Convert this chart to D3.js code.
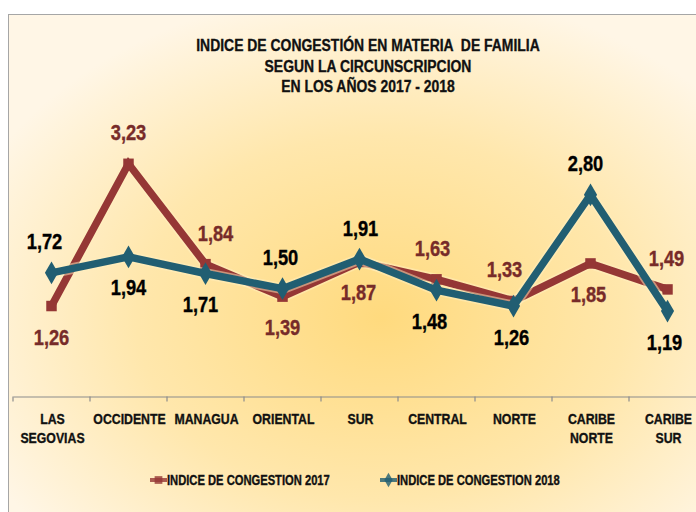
<!DOCTYPE html>
<html>
<head>
<meta charset="utf-8">
<script src="https://cdn.jsdelivr.net/npm/d3@7"></script>
<style>
  html, body { margin: 0; padding: 0; background: #fff; }
  svg { display: block; }
  text { font-family: "Liberation Sans", Arial, sans-serif; font-weight: bold; }
</style>
</head>
<body>
<script>
// ---- data ----
const categories = ["LAS SEGOVIAS", "OCCIDENTE", "MANAGUA", "ORIENTAL", "SUR", "CENTRAL", "NORTE", "CARIBE NORTE", "CARIBE SUR"];
const values2017 = [1.26, 3.23, 1.84, 1.39, 1.87, 1.63, 1.33, 1.85, 1.49];
const values2018 = [1.72, 1.94, 1.71, 1.50, 1.91, 1.48, 1.26, 2.80, 1.19];
const seriesNames = ["INDICE DE CONGESTION 2017", "INDICE DE CONGESTION 2018"];
const titleLines = ["INDICE DE CONGESTIÓN EN MATERIA  DE FAMILIA", "SEGUN LA CIRCUNSCRIPCION", "EN LOS AÑOS 2017 - 2018"];

// label placement (above / below point) and horizontal nudges
const place2017 = [1, -1, -1, 1, 1, -1, -1, 1, -1];
const nudge2017 = [0, 0, 10, 0, -1, -4, -9, -2, -1];
const place2018 = [-1, 1, 1, -1, -1, 1, 1, -1, 1];
const nudge2018 = [-7, 0, -5, -2, 1, -7, -2, -5, -3];

const W = 696, H = 512;
const svg = d3.select("body").append("svg").attr("width", W).attr("height", H);

// condensed text helper (Arial Narrow look)
function ntext(parent, px, py, str, size, color, sx = 0.82, anchor = "middle") {
  const g = parent.append("g").attr("transform", `translate(${px},${py}) scale(${sx},1)`);
  return g.append("text").attr("x", 0).attr("y", 0).attr("text-anchor", anchor)
    .attr("font-size", size).attr("fill", color)
    .attr("stroke", color).attr("stroke-width", 0.35)
    .attr("xml:space", "preserve").text(str);
}

// background gradient
const defs = svg.append("defs");
const grad = defs.append("radialGradient").attr("id", "bg")
  .attr("cx", "52%").attr("cy", "57%").attr("r", "62%");
grad.append("stop").attr("offset", "0%").attr("stop-color", "#FFDA7E");
grad.append("stop").attr("offset", "55%").attr("stop-color", "#FFE7AC");
grad.append("stop").attr("offset", "100%").attr("stop-color", "#FFF6E6");

svg.append("rect").attr("x", 8.5).attr("y", 14.5).attr("width", W + 20).attr("height", H + 20)
  .attr("fill", "url(#bg)").attr("stroke", "#A6A6A6").attr("stroke-width", 1);

// title
const titleG = svg.append("g");
titleLines.forEach((t, i) => ntext(titleG, 368, 51 + i * 20.5, t, 17, "#111"));

// scales
const x = d3.scaleBand().domain(categories).range([13, 13 + 77 * 9]);
const y = d3.scaleLinear().domain([0, 3.5]).range([397, 397 - 72.2 * 3.5]);
const cx = d => x(d) + x.bandwidth() / 2;

// axis
const axisY = 396.5;
const axis = svg.append("g").attr("transform", `translate(0,${axisY})`)
  .call(d3.axisBottom(x).tickSize(0).tickFormat(""));
axis.select(".domain").attr("stroke", "#8C8C8C").attr("stroke-width", 1.2);
svg.append("g").selectAll("line").data(categories).join("line")
  .attr("x1", d => x(d)).attr("x2", d => x(d))
  .attr("y1", axisY).attr("y2", axisY + 5)
  .attr("stroke", "#8C8C8C").attr("stroke-width", 1.2);

// category labels
const catG = svg.append("g");
categories.forEach(c => {
  c.split(" ").forEach((w, i) => ntext(catG, cx(c) + 1, 424 + i * 19, w, 15, "#111"));
});

// lines
const col2017 = "#953735", col2018 = "#215E72";
const lbl2017 = "#772B29", lbl2018 = "#000";
const line = d3.line().x((d, i) => cx(categories[i])).y(d => y(d));

function drawSeries(vals, color, marker) {
  const g = svg.append("g");
  g.append("path").datum(vals).attr("d", line).attr("fill", "none")
    .attr("stroke", "#FFF0C0").attr("stroke-opacity", 0.5).attr("stroke-width", 11).attr("stroke-linejoin", "round");
  g.append("path").datum(vals).attr("d", line).attr("fill", "none")
    .attr("stroke", color).attr("stroke-width", 7.5).attr("stroke-linejoin", "miter");
  const sym = d3.symbol().type(marker === "square" ? d3.symbolSquare : d3.symbolDiamond)
    .size(marker === "square" ? 110 : 150);
  g.selectAll("path.m").data(vals).join("path").attr("class", "m")
    .attr("transform", (d, i) => `translate(${cx(categories[i])},${y(d)})`)
    .attr("d", sym).attr("fill", color);
}
drawSeries(values2017, col2017, "square");
drawSeries(values2018, col2018, "diamond");

// data labels
const fmt = v => d3.format(".2f")(v).replace(".", ",");
function drawLabels(vals, place, nudge, color) {
  const g = svg.append("g");
  vals.forEach((v, i) => {
    ntext(g, cx(categories[i]) + nudge[i], y(v) + place[i] * 31 + 7.5, fmt(v), 21.5, color, 0.85);
  });
}
drawLabels(values2017, place2017, nudge2017, lbl2017);
drawLabels(values2018, place2018, nudge2018, lbl2018);

// legend
const legend = [
  { name: seriesNames[0], color: col2017, marker: d3.symbolSquare, x: 150 },
  { name: seriesNames[1], color: col2018, marker: d3.symbolDiamond, x: 380 }
];
const lg = svg.append("g");
legend.forEach(l => {
  lg.append("line").attr("x1", l.x).attr("x2", l.x + 17).attr("y1", 480).attr("y2", 480)
    .attr("stroke", l.color).attr("stroke-width", 4).attr("opacity", 0.8);
  lg.append("path").attr("d", d3.symbol().type(l.marker).size(60)())
    .attr("transform", `translate(${l.x + 8.5},480)`).attr("fill", l.color).attr("opacity", 0.8);
  ntext(lg, l.x + 17, 485, l.name, 14, "#111", 0.8, "start");
});
</script>
</body>
</html>
